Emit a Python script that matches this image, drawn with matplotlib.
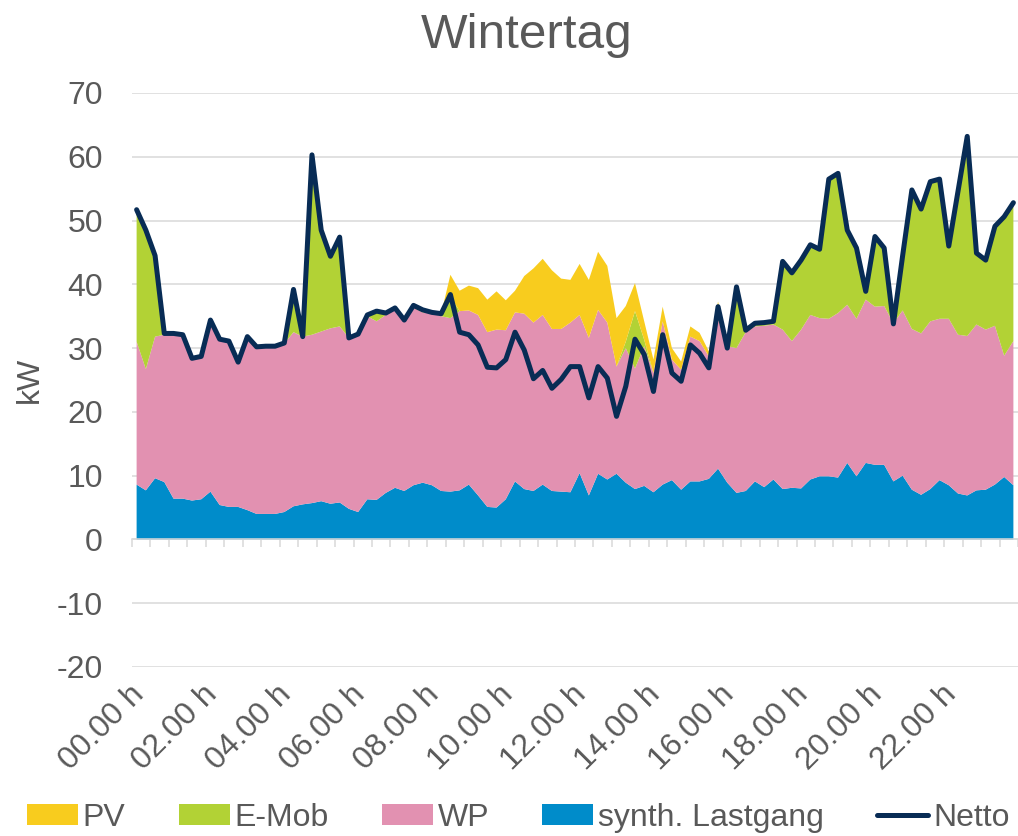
import numpy as np
import matplotlib
matplotlib.use("Agg")
import matplotlib.pyplot as plt
import matplotlib.transforms as mtransforms
from matplotlib.patches import Patch
from matplotlib.lines import Line2D

plt.rcParams['font.family'] = ['Liberation Sans', 'DejaVu Sans']
plt.rcParams['axes.unicode_minus'] = False

# quarter-hour values (96 points), kW
synth = [8.6, 7.7, 9.6, 9.0, 6.4, 6.4, 6.1, 6.3, 7.5, 5.4, 5.1, 5.1, 4.6, 4.0, 4.0, 4.0,
         4.3, 5.2, 5.5, 5.7, 6.0, 5.6, 5.8, 4.8, 4.3, 6.3, 6.2, 7.3, 8.1, 7.6, 8.5, 8.9,
         8.5, 7.6, 7.5, 7.7, 8.6, 6.9, 5.1, 5.0, 6.3, 9.1, 7.9, 7.6, 8.6, 7.6, 7.5, 7.4,
         10.4, 6.9, 10.3, 9.4, 10.3, 8.9, 7.9, 8.4, 7.4, 8.6, 9.3, 7.8, 9.1, 9.1, 9.5, 11.1,
         8.9, 7.3, 7.6, 9.1, 8.2, 9.4, 7.9, 8.1, 8.0, 9.4, 9.9, 9.9, 9.7, 12.0, 9.9, 12.0,
         11.7, 11.7, 9.1, 10.0, 7.8, 7.0, 7.9, 9.3, 8.5, 7.2, 6.9, 7.7, 7.8, 8.6, 9.8, 8.5]
wp = [22.4, 19.0, 22.2, 23.1, 25.8, 25.7, 22.3, 22.4, 26.9, 26.0, 26.0, 22.7, 27.2, 26.2, 26.3, 26.3,
      26.4, 27.3, 26.3, 26.4, 26.6, 27.5, 27.6, 26.8, 27.9, 28.7, 28.0, 27.9, 27.9, 26.8, 27.8, 26.7,
      27.0, 27.4, 27.2, 28.1, 27.3, 28.3, 27.4, 27.9, 26.5, 26.5, 27.5, 26.4, 26.6, 25.4, 25.5, 26.6,
      24.8, 24.7, 25.7, 24.6, 16.8, 21.1, 18.9, 21.9, 18.7, 25.6, 18.9, 18.8, 22.7, 22.0, 19.2, 23.4,
      21.4, 22.7, 24.9, 24.3, 25.3, 24.3, 25.0, 23.0, 24.9, 25.8, 24.8, 24.7, 25.8, 24.8, 24.7, 25.6,
      24.8, 24.9, 24.8, 25.9, 25.2, 25.3, 26.3, 25.3, 26.1, 24.9, 25.0, 26.0, 25.1, 24.9, 19.0, 22.6]
emob = [20.5, 21.6, 12.5, 0.2, 0.0, 0.0, 0.0, 0.0, 0.0, 0.0, 0.0, 0.0, 0.0, 0.0, 0.0, 0.0,
        0.1, 6.7, 0.0, 28.2, 15.9, 11.3, 14.0, 0.0, 0.0, 0.2, 1.6, 0.3, 0.3, 0.0, 0.4, 0.4,
        0.1, 0.4, 3.4, 0.0, 0.0, 0.0, 0.0, 0.0, 0.0, 0.0, 0.0, 0.0, 0.0, 0.0, 0.0, 0.0,
        0.0, 0.0, 0.0, 0.0, 0.0, 1.0, 9.0, 1.0, 0.0, 0.0, 0.0, 0.0, 0.0, 0.0, 0.0, 2.0,
        0.0, 9.6, 0.3, 0.5, 0.5, 0.5, 10.7, 10.7, 10.9, 11.0, 10.8, 21.9, 21.9, 11.7, 11.1, 1.3,
        11.0, 9.1, 0.0, 8.6, 21.8, 19.5, 21.9, 21.9, 11.4, 22.5, 31.3, 11.2, 10.9, 15.6, 21.8, 21.7]
pv = [0.0] * 34 + [3.4, 3.2, 3.9, 4.2, 5.1, 6.0, 4.7, 3.4, 5.9, 8.5, 8.8, 9.2, 7.9, 6.7,
                   8.0, 9.1, 9.1, 8.9, 7.6, 5.6, 4.4, 2.9, 2.1, 2.3, 1.8, 1.3, 1.6, 1.3, 0.8, 0.8] + [0.0] * 32
netto = [51.7, 48.5, 44.5, 32.3, 32.3, 32.1, 28.4, 28.7, 34.4, 31.4, 31.1, 27.8, 31.8, 30.2, 30.3, 30.3,
         30.8, 39.2, 31.8, 60.3, 48.5, 44.4, 47.4, 31.6, 32.2, 35.2, 35.8, 35.5, 36.3, 34.4, 36.7, 36.0,
         35.6, 35.4, 38.4, 32.5, 32.1, 30.5, 27.0, 26.9, 28.2, 32.5, 29.7, 25.2, 26.5, 23.7, 25.1, 27.1,
         27.1, 22.2, 27.1, 25.3, 19.3, 24.0, 31.4, 29.0, 23.2, 32.1, 26.1, 24.8, 30.5, 29.2, 26.9, 36.5,
         30.0, 39.6, 32.8, 33.9, 34.0, 34.2, 43.6, 41.8, 43.8, 46.2, 45.5, 56.5, 57.4, 48.5, 45.7, 38.9,
         47.5, 45.7, 33.8, 44.5, 54.8, 51.8, 56.1, 56.5, 46.0, 54.6, 63.2, 44.9, 43.8, 49.1, 50.6, 52.8]
hour_labels = ["00.00 h", "02.00 h", "04.00 h", "06.00 h", "08.00 h", "10.00 h",
               "12.00 h", "14.00 h", "16.00 h", "18.00 h", "20.00 h", "22.00 h"]
series_names = ["PV", "E-Mob", "WP", "synth. Lastgang", "Netto"]

c_pv, c_emob, c_wp, c_synth, c_net = "#F8CC1E", "#B2D235", "#E291B1", "#008CCA", "#082C55"
grey_txt, grey_grid = "#595959", "#D9D9D9"
fs = 23

x = np.arange(len(synth))
fig = plt.figure(figsize=(10.18, 8.36), dpi=100)
ax = fig.add_axes([132 / 1018, 169 / 836, 886 / 1018, 574 / 836])
ax.stackplot(x, synth, wp, emob, pv, colors=[c_synth, c_wp, c_emob, c_pv], linewidth=0)
ax.plot(x, netto, color=c_net, lw=3.6, solid_joinstyle='round', solid_capstyle='round', zorder=5)

ax.set_xlim(-0.5, len(x) - 0.5)
ax.set_ylim(-20, 70)
ax.set_yticks(range(-20, 71, 10))
ax.grid(axis='y', color=grey_grid, lw=1.1)
ax.set_axisbelow(True)
for s in ['top', 'right', 'left']:
    ax.spines[s].set_visible(False)
ax.spines['bottom'].set_position(('data', 0))
ax.spines['bottom'].set_color(grey_grid)
ax.spines['bottom'].set_linewidth(1.1)
ax.set_xticks(np.arange(-0.5, len(x), 2))
ax.tick_params(axis='x', length=6, width=1.1, color=grey_grid, labelbottom=False)
ax.tick_params(axis='y', length=0, pad=21, labelsize=fs, labelcolor=grey_txt)

sec = ax.secondary_xaxis(0.0)
sec.set_xticks(np.arange(0, len(x), 8), hour_labels)
sec.tick_params(length=0, pad=9, labelsize=fs, labelcolor=grey_txt)
sec.spines['bottom'].set_visible(False)
shift = mtransforms.ScaledTranslation(-8 / 100, 0, fig.dpi_scale_trans)
for lab in sec.get_xticklabels():
    lab.set_rotation(45)
    lab.set_ha('right')
    lab.set_va('top')
    lab.set_rotation_mode('anchor')
    lab.set_transform(lab.get_transform() + shift)

ax.set_ylabel('kW', fontsize=fs, color=grey_txt)
ax.yaxis.set_label_coords(-0.098, 0.5)

fig.text(0.517, 0.958, 'Wintertag', fontsize=35.6, color=grey_txt, ha='center', va='center')

handles = [Patch(fc=c_pv, label=series_names[0]), Patch(fc=c_emob, label=series_names[1]),
           Patch(fc=c_wp, label=series_names[2]), Patch(fc=c_synth, label=series_names[3]),
           Line2D([], [], color=c_net, lw=3.6, solid_capstyle='round', label=series_names[4])]
fig.legend(handles=handles, loc='center', bbox_to_anchor=(0.509, 0.0215), ncol=5, frameon=False,
           fontsize=fs, handlelength=1.6, handleheight=0.65, handletextpad=0.15, columnspacing=1.66,
           labelcolor=grey_txt, borderpad=0, borderaxespad=0)

fig.savefig('out.png', dpi=100)
